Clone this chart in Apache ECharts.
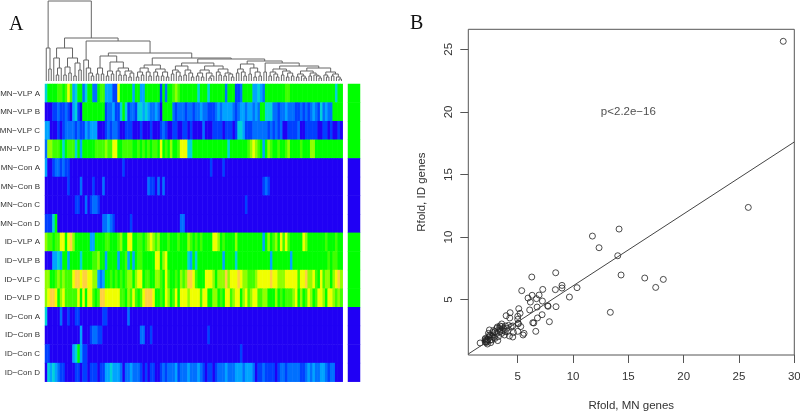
<!DOCTYPE html>
<html><head><meta charset="utf-8">
<style>html,body{margin:0;padding:0;background:#fff}#c{width:800px;height:411px}</style>
<script src="https://cdn.jsdelivr.net/npm/echarts@6/dist/echarts.min.js"></script>
</head><body><div id="c"></div>
<script>
const rowLabels = ["MN−VLP A","MN−VLP B","MN−VLP C","MN−VLP D","MN−Con A","MN−Con B","MN−Con C","MN−Con D","ID−VLP A","ID−VLP B","ID−VLP C","ID−VLP D","ID−Con A","ID−Con B","ID−Con C","ID−Con D"];
const mnVlpA = [4,5,5,5,5,6,6,5,6,8, 6,3,4,5,5,2,4,5,5,2, 2,5,6,6,3,3,3,1,1,8, 5,5,5,5,5,3,5,5,3,3, 5,5,5,5,5,5,1,5,2,5, 5,6,7,6,5,5,5,5,5,5, 5,4,5,5,5,4,5,5,5,5, 5,5,2,5,5,5,1,1,2,5, 5,5,5,3,3,4,3,2,5,5, 5,5,5,5,5,5,6,6,5,5, 5,5,5,5,5,5,5,5,5,5, 5,5,5,5,5,5,4,5,5];
const mnVlpB = [0,0,0,1,1,2,1,1,2,1, 0,3,4,1,0,5,5,5,5,5, 5,5,5,5,1,2,2,3,1,1, 4,5,4,1,2,2,1,4,4,3, 4,3,2,2,3,2,0,5,5,5, 5,2,1,2,2,2,1,2,2,1, 2,2,3,2,2,1,1,1,2,3, 2,3,3,3,3,2,1,2,3,3, 2,3,3,2,3,2,5,5,4,4, 4,2,2,1,2,2,3,2,2,2, 1,1,2,1,2,1,2,3,2,1, 4,2,3,2,2,5,5,5,5];
const mnVlpC = [3,3,0,0,0,1,0,1,2,2, 2,2,1,2,1,1,3,2,3,3, 3,0,0,0,1,2,1,2,2,1, 0,0,1,1,1,0,0,0,1,0, 0,0,1,0,0,0,1,2,1,0, 0,1,1,0,0,1,1,0,1,0, 0,0,0,2,0,0,0,1,1,1, 1,0,1,1,1,0,1,4,4,3, 1,1,1,2,2,2,2,2,2,1, 2,1,2,1,2,0,0,1,1,1, 1,2,0,0,1,1,1,1,1,0, 0,1,1,0,1,0,0,1,0];
const mnVlpD = [2,7,7,6,6,6,5,4,5,6, 6,6,4,5,3,5,5,5,5,5, 6,6,6,6,7,6,6,8,8,5, 5,6,6,6,6,5,5,6,5,6, 5,6,5,6,6,5,8,5,6,5, 7,5,5,6,8,8,8,4,4,5, 5,5,5,5,5,5,5,5,5,5, 5,5,5,4,5,5,5,5,5,5, 5,6,7,8,7,6,5,3,5,7, 6,5,5,6,5,5,6,7,5,5, 5,5,6,5,5,5,7,7,5,5, 5,5,5,5,5,5,5,5,5];
const mnConA = [3,0,0,1,2,2,1,2,1,1, 0,0,0,0,0,0,0,0,0,0, 0,0,0,0,0,0,0,0,0,0, 0,1,0,0,0,0,0,0,0,0, 0,0,0,0,0,0,0,0,0,0, 0,0,0,0,0,0,0,0,0,0, 0,0,0,0,0,0,1,0,0,0, 0,1,0,0,0,0,0,0,0,0, 0,0,0,0,0,0,0,0,0,0, 0,0,0,0,0,0,0,0,0,0, 0,0,0,0,0,0,0,0,0,0, 0,0,0,0,0,0,0,0,0];
const mnConB = [0,0,0,0,0,0,0,0,0,1, 0,0,0,0,2,0,0,0,0,1, 0,0,0,2,0,0,0,0,0,0, 0,0,0,0,0,0,0,0,0,0, 0,2,1,1,0,2,0,2,0,0, 0,0,0,0,0,0,0,0,0,0, 0,0,0,0,0,0,0,0,0,0, 0,0,0,0,0,0,0,0,0,0, 0,0,0,0,0,0,0,1,2,1, 0,0,0,0,0,0,0,0,0,0, 0,0,0,0,0,0,0,0,0,0, 0,0,0,0,0,0,0,0,0];
const mnConC = [0,0,0,0,0,0,0,0,0,0, 0,0,1,1,0,0,2,0,1,2, 2,1,0,0,0,0,0,0,0,0, 0,0,0,0,0,0,0,0,0,0, 0,0,0,0,0,0,0,0,0,0, 0,0,0,0,0,0,0,0,0,0, 0,0,0,0,0,0,0,0,0,0, 0,0,0,0,0,0,0,0,0,0, 1,0,0,0,0,0,0,0,0,0, 0,0,0,0,0,0,0,0,0,0, 0,0,0,0,0,0,0,0,0,0, 0,0,0,0,0,0,0,0,0];
const mnConD = [1,1,1,4,5,0,0,0,0,0, 0,0,0,0,0,0,0,0,0,0, 0,0,0,2,2,3,2,1,0,0, 0,0,0,0,1,0,0,0,0,0, 0,0,0,0,0,0,0,0,0,0, 0,0,0,0,2,2,0,0,0,0, 0,0,0,0,0,0,0,0,0,0, 0,0,0,0,0,0,0,0,0,0, 0,0,0,0,0,0,0,0,0,0, 0,0,0,0,0,0,0,0,0,0, 0,0,0,0,0,0,0,0,0,0, 0,0,0,0,0,0,0,0,0];
const idVlpA = [7,6,6,5,6,6,8,8,5,8, 9,7,5,5,5,5,5,5,3,3, 5,5,5,5,6,6,5,5,5,6, 7,5,5,8,8,5,5,6,6,5, 6,7,8,7,6,7,5,5,5,6, 5,5,5,6,5,5,5,7,6,5, 6,5,6,5,5,5,5,8,8,7, 5,6,5,5,5,5,7,5,5,5, 5,5,5,5,5,5,5,3,5,7, 5,6,7,5,8,6,8,6,5,5, 5,5,5,8,7,5,5,5,5,5, 5,5,6,5,5,5,6,5,5];
const idVlpB = [0,0,0,3,3,4,3,5,5,3, 5,5,5,5,4,5,5,5,5,6, 6,7,5,5,3,5,5,5,5,3, 5,5,6,3,5,3,5,6,6,5, 5,5,5,5,8,8,5,7,8,5, 5,5,5,5,5,5,5,4,3,5, 4,5,5,5,5,5,5,5,5,5, 5,3,5,5,5,5,4,5,5,5, 5,5,5,5,5,5,5,5,5,5, 3,5,5,5,5,5,5,5,3,5, 5,5,5,5,5,5,5,5,5,5, 5,5,5,6,5,6,6,5,5];
const idVlpC = [7,7,5,5,6,7,6,7,6,6, 6,8,9,9,8,9,9,8,8,7, 7,3,2,3,5,5,6,5,6,5, 6,5,6,7,7,5,7,8,8,5, 6,6,5,5,7,7,6,5,8,6, 5,5,6,5,7,6,7,9,9,8, 6,5,5,5,8,8,8,7,5,7, 7,7,9,7,8,8,8,9,8,7, 7,6,6,6,7,8,8,8,8,8, 9,8,8,7,7,7,8,8,8,8, 8,6,8,8,9,7,7,8,6,5, 8,6,7,7,5,7,8,9,7];
const idVlpD = [7,8,9,9,8,5,7,8,6,6, 6,6,6,8,5,8,5,8,8,6, 5,6,9,9,8,8,8,8,8,8, 6,6,5,7,6,8,6,5,6,8, 9,9,9,8,5,5,6,5,8,7, 5,6,8,5,8,8,8,7,8,8, 8,8,6,8,8,5,5,7,7,5, 6,5,8,8,6,7,8,8,5,7, 8,6,7,8,8,6,6,7,7,5, 5,5,7,5,6,5,6,6,6,7, 8,5,7,5,6,8,7,5,6,8, 8,7,5,8,8,7,6,7,6];
const idConA = [4,0,0,0,0,0,2,0,0,1, 0,0,1,1,0,0,0,0,0,0, 0,0,0,1,1,0,0,0,0,0, 0,0,0,2,0,0,0,0,0,0, 0,0,0,0,0,0,0,0,0,0, 0,0,0,0,0,0,0,0,0,0, 0,0,0,0,0,0,0,0,0,0, 0,0,0,0,0,0,0,0,0,0, 0,0,0,0,0,0,0,0,0,0, 0,0,0,0,0,0,0,0,0,0, 0,0,0,0,0,0,0,0,0,0, 0,0,0,0,0,0,0,0,0];
const idConB = [0,0,0,0,0,0,0,0,0,0, 0,0,0,0,3,0,0,0,1,2, 2,1,1,0,0,0,0,0,0,0, 0,0,0,0,0,0,0,0,2,2, 0,0,1,0,0,0,0,0,0,0, 0,0,0,0,0,0,0,0,0,0, 0,0,0,0,0,1,0,0,0,0, 0,0,0,0,0,0,0,0,0,0, 0,0,0,0,0,0,0,0,0,0, 0,0,0,0,0,0,0,0,0,0, 0,0,0,0,0,0,0,0,0,0, 0,0,0,0,0,0,0,0,0];
const idConC = [1,1,0,0,0,0,0,0,0,0, 0,3,4,5,3,1,1,0,0,0, 0,0,0,0,0,0,0,0,0,0, 0,0,0,0,0,0,0,0,0,0, 0,0,0,0,0,0,0,0,0,0, 0,0,0,0,0,0,0,0,0,0, 0,0,0,0,0,0,0,0,0,0, 0,0,0,0,0,0,0,0,1,0, 0,0,0,0,0,0,0,0,0,0, 0,0,0,0,0,0,0,0,0,0, 0,0,0,0,0,0,0,0,0,0, 0,0,0,0,0,0,0,0,0];
const idConD = [0,4,3,4,3,2,1,1,0,0, 0,0,1,1,0,1,1,0,1,1, 1,0,1,1,3,3,4,3,3,3, 2,0,2,2,3,2,2,2,1,0, 1,0,1,1,0,0,1,2,1,2, 2,2,3,1,2,2,2,3,2,2, 2,3,2,1,0,1,1,0,1,2, 2,2,3,2,2,2,3,3,3,2, 3,3,3,2,0,1,1,2,1,1, 1,1,0,1,2,2,1,2,2,2, 2,2,1,1,2,3,2,3,2,2, 3,3,2,1,2,2,0,0,0];
const heatRows = [mnVlpA,mnVlpB,mnVlpC,mnVlpD,mnConA,mnConB,mnConC,mnConD,idVlpA,idVlpB,idVlpC,idVlpD,idConA,idConB,idConC,idConD];
const sideValues = [5,5,5,5,0,0,0,0,5,5,5,5,0,0,0,0];
const heatPalette = ['#2000f4','#0040ff','#0070ff','#00a4ff','#00d4d8','#00ff00','#40ff00','#90ff00','#f0ff00','#ffd040'];

// dendrogram: node = [height, left, right]; 0 = a leaf
const dendroTree = [80,
  [33,0,[12,0,0]],
  [43,
    [33,
      [23,0,[13,[6,0,0],0]],
      [23,[14,[6,0,0],[8,0,0]],[18,[5,0,0],[11,0,0]]]],
    [40,
      [21,0,[13,0,[8,0,[5,0,0]]]],
      [28,
        [25,
          [13,[7,0,0],[7,0,0]],
          [19,[10,[5,0,0],[7,0,0]],[13,[10,0,[6,0,0]],[10,[6,0,0],[8,[4,0,0],0]]]]],
        [23,
          [16,[13,[9,[4,0,0],[6,0,0]],[9,0,[5,0,0]]],[12,[9,0,[5,0,0]],[9,[5,0,0],[4,0,0]]]],
          [22,
            [18,
              [15,[11,[7,0,0],[9,0,[5,0,0]]],[11,[6,0,0],[8,0,[4,0,0]]]],
              [15,[11,[8,[5,0,0],[4,0,0]],[8,0,[5,[3,0,0],0]]],[12,[9,0,[6,0,0]],[8,[5,0,0],[7,0,[4,0,0]]]]]],
            [20,
              [17,[12,[8,0,0],[9,0,[5,0,0]]],[13,[7,0,0],[9,[4,0,0],[5,0,0]]]],
              [18,
                [9,0,0],
                [15,
                  [12,[9,[5,0,0],[7,0,[4,0,0]]],[10,[6,0,0],[8,[4,0,0],[5,0,0]]]],
                  [13,
                    [10,[7,[4,0,0],[5,0,[3,0,0]]],[8,[5,0,0],[6,0,[5,0,[3,0,0]]]]],
                    [9,[6,0,[4,0,0]],[7,[5,0,0],[4,0,[2,0,0]]]]]]]]]]]]]];

const foldMN = [29,25.84,14.16,11.75,12.35,14.04,14.34,16.48,18.16,17.47,13.37,8.43,6.27,5.36,7.26,8.4,9,9,10.36,9.67,6.93,6.3,5.93,6.69,7.23,6.14,5.09,6.08,6.75,7.71,7.74,8.46,4.31,3.95,4.28,5.21,5,5,5.03,5.06,7.2,6.78,7.86,6.36,6.45,5.27,5,6.63,5.57,5.48,4.55,4.61,4.55,4.25,3.55,3.89,4.16,3.4,3.1,3.16,3.4,3.7,4.07,3.8,3.55,2.95,2.8,3.19,2.95,2.65,2.44,2.8,2.44,2.26,2.14,2.08,2.26,2.14,1.6,2.5,2.65,3.1,3.25,3.4,3.7,4.01,4.4,3.55,2.35,2.74,2.05,2.32,2.56,2.14,2.26,2.05,2.38,2.5,2.86,3.86,3.34];
const foldID = [25.64,12.37,10.64,10.08,9.15,8.51,6.97,6.73,6.62,5.98,3.99,7.15,6.81,5.72,5.82,5.8,6.14,5.93,5.96,5.21,5.37,5.35,5.13,5.08,4.89,4.81,4.28,4.18,4.41,4.52,4.47,4.44,3.96,3.72,3.54,3.91,3.67,3.43,3.11,3.08,3.8,3.54,3.24,3.16,3.14,2.85,2.47,2.47,2.31,2.18,2.9,2.37,2.02,2.1,3.06,2.9,2.95,2.9,2.71,2.82,2.58,2.53,2.45,2.18,2.31,2.45,2.18,1.73,1.91,2.05,2.58,2.53,2.18,1.65,1.78,1.91,1.46,1.57,1.54,1.78,1.78,2.31,2.05,2.45,2.71,2.71,2.85,2.85,2.31,2.37,1.65,1.84,1.57,1.67,1.78,1.84,1.99,2.1,1.99,2.45,2.71];
const fitX = [0.53,30];
const fitY = [0.66,17.6];
const xTicks = [5,10,15,20,25,30];
const yTicks = [5,10,15,20,25];
const pText = {x:15,y:20,label:"p<2.2e−16"};

const font = '"Liberation Sans", Arial, sans-serif';
const ink = '#333';

// walk the tree into dendrogram elbows
const elbows = []; let nextLeaf = 0;
(function walk(n){
  if(n===0){ const p=[nextLeaf+0.5,0]; nextLeaf++; return p; }
  const a=walk(n[1]), b=walk(n[2]);
  elbows.push([a[0],a[1],b[0],b[1],n[0]]);
  return [(a[0]+b[0])/2,n[0]];
})(dendroTree);

const heatData = [];
heatRows.forEach((row,r)=>row.forEach((v,c)=>heatData.push([c,r,v])));
const columns = mnVlpA.map((_,i)=>String(i));

const option = {
  animation:false,
  backgroundColor:'#fff',
  grid:[
    {left:45,top:1,width:297.7,height:80,outerBoundsMode:'none'},
    {left:45,top:84,width:297.7,height:297.7,outerBoundsMode:'none'},
    {left:348,top:84,width:12,height:297.7,outerBoundsMode:'none'},
    {left:468.3,top:29.3,width:326,height:325.7,show:true,borderColor:'#555',borderWidth:1,backgroundColor:'transparent',outerBoundsMode:'none'}
  ],
  xAxis:[
    {gridIndex:0,type:'value',min:0,max:columns.length,show:false},
    {gridIndex:1,type:'category',data:columns,show:false},
    {gridIndex:2,type:'category',data:['side'],show:false},
    {gridIndex:3,type:'value',min:0.53,max:30,name:'Rfold, MN genes',nameLocation:'middle',nameGap:45,
     nameTextStyle:{fontFamily:font,fontSize:11.5,color:ink},
     axisLine:{show:false},splitLine:{show:false},
     axisTick:{show:true,length:8,customValues:xTicks,lineStyle:{color:'#555'}},
     axisLabel:{customValues:xTicks,fontFamily:font,fontSize:11.5,color:ink,margin:16,hideOverlap:false}}
  ],
  yAxis:[
    {gridIndex:0,type:'value',min:0,max:80,show:false},
    {gridIndex:1,type:'category',data:rowLabels,inverse:true,
     axisLine:{show:false},axisTick:{show:false},
     axisLabel:{fontFamily:font,fontSize:8,color:'#333',margin:5,interval:0}},
    {gridIndex:2,type:'category',data:rowLabels,inverse:true,show:false},
    {gridIndex:3,type:'value',min:0.58,max:26.6,name:'Rfold, ID genes',nameLocation:'middle',nameGap:40,
     nameTextStyle:{fontFamily:font,fontSize:11.5,color:ink},
     axisLine:{show:false},splitLine:{show:false},
     axisTick:{show:true,length:8,customValues:yTicks,lineStyle:{color:'#555'}},
     axisLabel:{customValues:yTicks,rotate:90,fontFamily:font,fontSize:11.5,color:ink,margin:19,verticalAlign:'middle',align:'center'}}
  ],
  visualMap:[{show:false,type:'continuous',min:0,max:9,seriesIndex:[1,2],dimension:2,inRange:{color:heatPalette}}],
  series:[
    {type:'custom',xAxisIndex:0,yAxisIndex:0,data:elbows,silent:true,
     renderItem:(p,api)=>{
       const c=(x,y)=>api.coord([x,y]);
       return {type:'polyline',shape:{points:[c(api.value(0),api.value(1)),c(api.value(0),api.value(4)),c(api.value(2),api.value(4)),c(api.value(2),api.value(3))]},
               style:{stroke:'#666',lineWidth:1,fill:null}};
     },encode:{x:[0,2],y:[1,3,4]}},
    {type:'heatmap',xAxisIndex:1,yAxisIndex:1,data:heatData,progressive:0,itemStyle:{borderWidth:0}},
    {type:'heatmap',xAxisIndex:2,yAxisIndex:2,data:sideValues.map((v,r)=>[0,r,v]),itemStyle:{borderWidth:0}},
    {type:'scatter',xAxisIndex:3,yAxisIndex:3,data:foldMN.map((x,i)=>[x,foldID[i]]),symbol:'circle',symbolSize:6,
     itemStyle:{color:'rgba(0,0,0,0)',borderColor:'#222',borderWidth:1}},
    {type:'line',xAxisIndex:3,yAxisIndex:3,data:fitX.map((x,i)=>[x,fitY[i]]),symbol:'none',lineStyle:{color:'#444',width:1},silent:true},
    {type:'scatter',xAxisIndex:3,yAxisIndex:3,data:[[pText.x,pText.y]],symbolSize:1,itemStyle:{color:'rgba(0,0,0,0)'},
     label:{show:true,position:'inside',formatter:pText.label,fontFamily:font,fontSize:11.5,color:'#222'},silent:true}
  ],
  graphic:[
    {type:'text',left:9,top:15,style:{text:'A',font:'20px "Liberation Serif", serif',fill:'#111'}},
    {type:'text',left:410,top:14,style:{text:'B',font:'20px "Liberation Serif", serif',fill:'#111'}}
  ]
};
echarts.init(document.getElementById('c'),null,{renderer:'canvas'}).setOption(option);
</script></body></html>
